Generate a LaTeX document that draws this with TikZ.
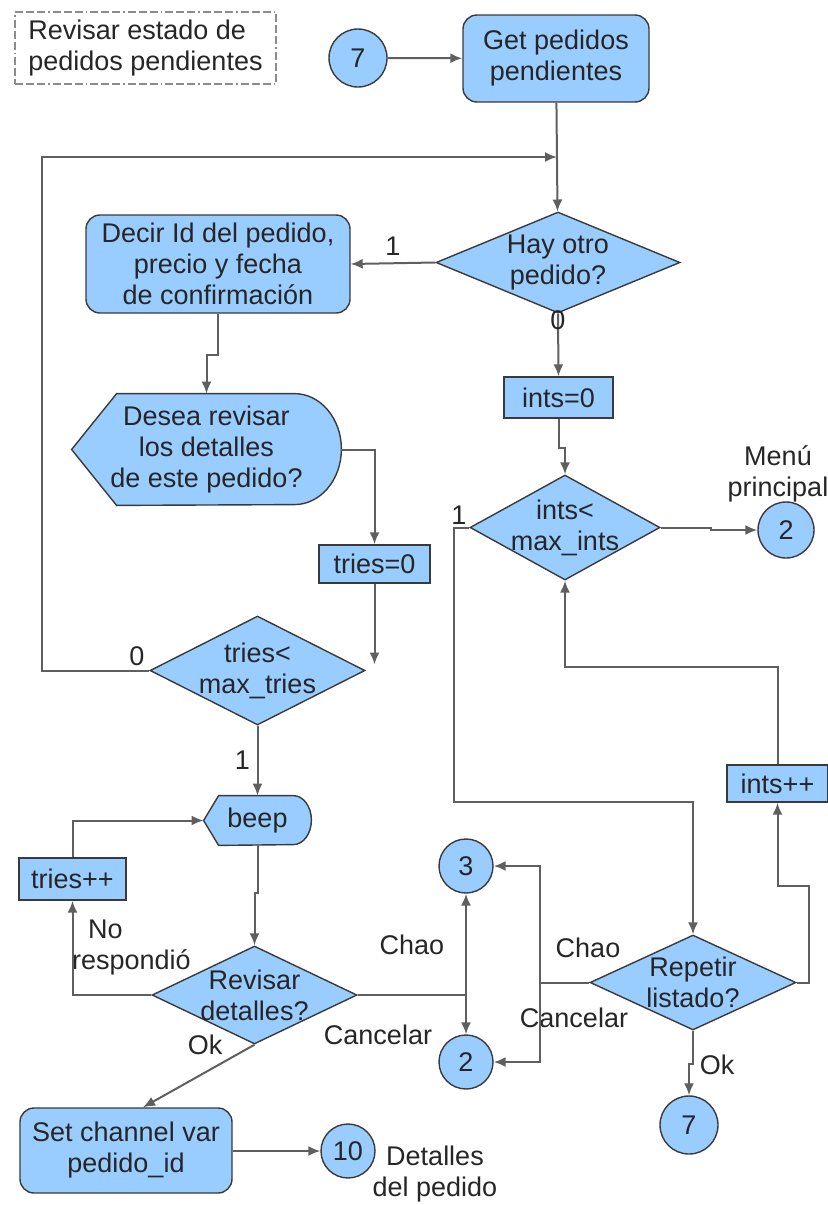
\documentclass[tikz,border=0pt]{standalone}
\usepackage{fontspec}
\setmainfont{Liberation Sans}
\usetikzlibrary{shapes.geometric, arrows.meta, positioning, calc, backgrounds}
\definecolor{flowblue}{HTML}{99CCFF}
\definecolor{edgegray}{HTML}{5F5F5F}
\definecolor{boxline}{HTML}{3A3A3A}
\tikzset{
        x=0.5pt, y=-0.5pt, % one unit = one pixel of the sketch
        >={Latex[length=6pt,width=5pt]}, % filled arrow heads
        every node/.style={font=\fontsize{13.5}{15.5}\selectfont, text=black!85},
        linea/.style={draw=edgegray, line width=1pt},
        proceso/.style={rectangle, rounded corners=7pt, draw=boxline, fill=flowblue, align=center, line width=0.7pt},
        asignar/.style={rectangle, draw=boxline, fill=flowblue, line width=0.7pt},
        decision/.style={diamond, draw=boxline, fill=flowblue, inner sep=0pt, line width=0.7pt},
        conector/.style={circle, draw=boxline, fill=flowblue, inner sep=0pt, minimum size=#1, line width=0.7pt},
        pantalla/.style={draw=boxline, fill=flowblue, line width=0.7pt},
        nota/.style={draw=gray!90, line width=0.8pt, dash pattern=on 4pt off 1.5pt on 4pt off 1.5pt on 4pt off 1.5pt on 0.8pt off 1.5pt},
    }
\begin{document}
\begin{tikzpicture}
    \useasboundingbox (0,0) rectangle (828,1205);
    % title and entry
    \node[nota, minimum width=130.5pt, minimum height=36pt, align=left] (titulo) at (145.5,48) {Revisar estado de\\pedidos pendientes};
    \node[conector=29pt] (siete) at (358,58) {7};
    \node[proceso, minimum width=93pt, minimum height=43.5pt] (getped) at (556,58.5) {Get pedidos\\pendientes};
    \node[decision, minimum width=122pt, minimum height=50.5pt, label={[align=center]center:Hay otro\\pedido?}] (hayotro) at (558,262.5) {};
    % left branch
    \node[proceso, minimum width=132pt, minimum height=49pt] (decir) at (218,264) {Decir Id del pedido,\\precio y fecha\\de confirmación};
    \node[minimum width=134.5pt, minimum height=55.5pt, align=center] (desea) at (206.5,449.5) {Desea revisar\\los detalles\\de este pedido?};
    \node[asignar, minimum width=55.5pt, minimum height=19pt] (tries0) at (374.5,564) {tries=0};
    \node[decision, minimum width=107.5pt, minimum height=54.5pt, label={[align=center]center:tries<\\max\_tries}] (triesmax) at (257.5,670.5) {};
    \node[minimum width=53.5pt, minimum height=24.5pt] (beep) at (257.5,820.5) {beep};
    \node[asignar, minimum width=53.5pt, minimum height=21pt] (triespp) at (72.5,879) {tries++};
    \node[decision, minimum width=102.5pt, minimum height=49pt, label={[align=center]center:Revisar\\detalles?}] (revisar) at (254.5,995) {};
    \node[proceso, minimum width=106pt, minimum height=42.5pt] (setchan) at (126,1150.5) {Set channel var\\pedido\_id};
    \node[conector=27pt] (diez) at (348,1151) {10};
    \node[conector=27pt] (tres) at (466,866) {3};
    \node[conector=27pt] (dosb) at (466,1062) {2};
    % right branch
    \node[asignar, minimum width=54.5pt, minimum height=20.5pt] (ints0) at (558.5,397.5) {ints=0};
    \node[decision, minimum width=95pt, minimum height=52.5pt, label={[align=center]center:ints<\\max\_ints}] (intsmax) at (565,527.5) {};
    \node[conector=28pt] (dosa) at (786,530) {2};
    \node[asignar, minimum width=50.5pt, minimum height=18.5pt] (intspp) at (777.5,783.5) {ints++};
    \node[decision, minimum width=103pt, minimum height=47.5pt, label={[align=center]center:Repetir\\listado?}] (repetir) at (693,982.5) {};
    \node[conector=29pt] (sieteb) at (689,1125) {7};

    % display shapes behind their text
    \begin{scope}[on background layer]
        \draw[pantalla] (desea.west) -- ([xshift=22.5pt]desea.north west) -- ([xshift=-23.5pt]desea.north east)
            arc[start angle=90, end angle=-90, x radius=23.5pt, y radius=27.75pt] -- ([xshift=22.5pt]desea.south west) -- cycle;
        \draw[pantalla] (beep.west) -- ([xshift=7.5pt]beep.north west) -- ([xshift=-9pt]beep.north east)
            arc[start angle=90, end angle=-90, x radius=9pt, y radius=12.25pt] -- ([xshift=7.5pt]beep.south west) -- cycle;
    \end{scope}

    % free labels
    \node[align=center] (menu) at (778,474) {Menú\\principal};
    \node[align=left, anchor=west] (lnoresp) at (65,948) {\hspace*{8pt}No\\respondió};
    \node (lok) at (205,1045) {Ok};
    \node (lchao) at (412,945) {Chao};
    \node (lcanc) at (378,1035) {Cancelar};
    \node (lchaob) at (588,948) {Chao};
    \node (lcancb) at (574,1018) {Cancelar};
    \node (lokb) at (717,1065) {Ok};
    \node[align=center] (detalles) at (435,1174) {Detalles\\del pedido};

    % connectors
    \coordinate (lazo) at ($(getped.south)!0.5!(hayotro.north)$);
    \draw[linea, ->] (siete) -- (getped);
    \draw[linea, ->] (getped) -- (hayotro);
    \draw[linea, ->] (hayotro.west) -- node[above] (luno) {1} (decir.east);
    \draw[linea, ->] (hayotro.south) node[yshift=-3pt, inner sep=0pt] (lcero) {0} -- (ints0.north);
    \draw[linea, ->] (decir.south) -- ++(0,41) -| (desea.north);
    \draw[linea, ->] (desea.east) -| (tries0.north);
    \draw[linea, ->] (tries0.south) -- ([yshift=3pt]tries0.south |- triesmax.east);
    \draw[linea, ->] (triesmax.west) node[above left, inner sep=2pt] (lcerob) {0} -- ++(-107,0) |- (lazo);
    \draw[linea, ->] (triesmax.south) -- node[left] (lunob) {1} (beep.north);
    \draw[linea, ->] (triespp.north) |- (beep.west);
    \draw[linea, ->] (beep.south) -- ++(0,48) -| (revisar.north);
    \draw[linea, ->] (revisar.west) -| (triespp.south);
    \draw[linea, ->] (revisar.east) -| (tres.south);
    \draw[linea, ->] (revisar.east) -| (dosb.north);
    \draw[linea, ->] (revisar.south) -- ([xshift=8.5pt]setchan.north);
    \draw[linea, ->] (setchan.east) -- ++(43,0) |- (diez.west);
    \draw[linea, ->] (ints0.south) -- ++(0,29) -| (intsmax.north);
    \draw[linea, ->] (intsmax.east) -- ++(50,0) |- (dosa.west);
    \draw[linea, ->] (intsmax.west) node[above left, inner sep=1pt] (lunoc) {1} -- ++(-15,0) |- ($(repetir.north)+(0,-132)$) -- (repetir.north);
    \draw[linea, ->] (intspp.north) -- ++(0,-97) -| (intsmax.south);
    \draw[linea, ->] (repetir.east) -- ++(12,0) -- ++(0,-96.5) -| (intspp.south);
    \draw[linea] (repetir.west) -- ++(-49,0) coordinate (cruce);
    \draw[linea, ->] (cruce) |- (tres.east);
    \draw[linea, ->] (cruce) |- (dosb.east);
    \draw[linea, ->] (repetir.south) -- ++(0,33) -| (sieteb.north);
\end{tikzpicture}
\end{document}
